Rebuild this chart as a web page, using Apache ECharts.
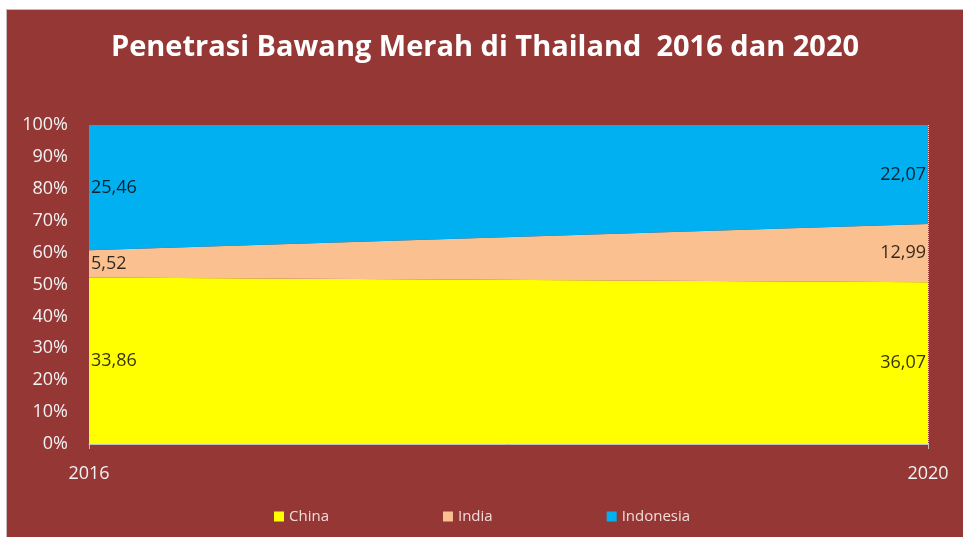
<!DOCTYPE html>
<html>
<head>
<meta charset="utf-8">
<script src="https://cdn.jsdelivr.net/npm/echarts@6/dist/echarts.min.js"></script>
<style>
  html, body { margin: 0; padding: 0; background: #ffffff; }
  #chart { position: absolute; left: 6px; top: 9px; width: 957px; height: 528px; border-left: 1px solid #c8b8b8; border-top: 1px solid #c8b8b8; box-sizing: border-box; }
</style>
</head>
<body>
<div id="chart"></div>
<script>
  // data
  const years = ["2016", "2020"];
  const seriesNames = ["China", "India", "Indonesia"];
  const china = [33.86, 36.07];
  const india = [5.52, 12.99];
  const indonesia = [25.46, 22.07];
  const colors = ["#ffff00", "#fac090", "#00b0f0"];

  const raw = [china, india, indonesia];
  // 100% stacked: share of each country per year
  const totals = years.map((y, j) => raw.reduce((s, arr) => s + arr[j], 0));
  const shares = raw.map(arr => arr.map((v, j) => v / totals[j] * 100));

  let series = [];
  for (let i = 0; i < raw.length; i++) {
    series.push({
      name: seriesNames[i],
      type: "line",
      stack: "total",
      symbol: "none",
      lineStyle: { width: 0 },
      areaStyle: { color: colors[i], opacity: 1 },
      itemStyle: { color: colors[i] },
      data: shares[i],
    });
  }

  // value labels placed at the middle of each band
  let labelData = [];
  for (let i = 0; i < raw.length; i++) {
    for (let j = 0; j < years.length; j++) {
      let base = 0;
      for (let k = 0; k < i; k++) base += shares[k][j];
      labelData.push({
        value: [years[j], base + shares[i][j] / 2],
        raw: raw[i][j],
        label: { position: j === 0 ? "right" : "left", distance: 2 },
      });
    }
  }
  series.push({
    type: "scatter",
    symbolSize: 0,
    silent: true,
    z: 5,
    data: labelData,
    label: {
      show: true,
      color: "#000000",
      fontSize: 18,
      fontFamily: "Open Sans",
      formatter: p => p.data.raw.toFixed(2).replace(".", ","),
    },
    // dotted edge at the last year
    markLine: {
      silent: true,
      symbol: "none",
      label: { show: false },
      lineStyle: { color: "#d9d9d9", type: "dotted", width: 1 },
      data: [{ xAxis: years[years.length - 1] }],
    },
  });

  var myChart = echarts.init(document.getElementById("chart"));
  myChart.setOption({
    backgroundColor: "#953735",
    animation: false,
    title: {
      text: "Penetrasi Bawang Merah di Thailand  2016 dan 2020",
      left: "center",
      top: 18,
      textStyle: {
        color: "#ffffff",
        fontSize: 29,
        fontWeight: "bold",
        fontFamily: "Open Sans",
      },
    },
    legend: {
      data: seriesNames,
      left: 262,
      bottom: 8,
      itemWidth: 10,
      itemHeight: 10,
      itemGap: 114,
      icon: "rect",
      textStyle: { color: "#f2dcdb", fontSize: 15, fontFamily: "Open Sans" },
    },
    grid: { left: 82, right: 35, top: 115, bottom: 93 },
    xAxis: {
      type: "category",
      data: years,
      boundaryGap: false,
      axisLine: { lineStyle: { color: "#bfbfbf" } },
      axisTick: { show: true, length: 5, lineStyle: { color: "#bfbfbf" } },
      axisLabel: { color: "#f2f2f2", fontSize: 18, margin: 21, fontFamily: "Open Sans" },
      splitLine: { show: false },
    },
    yAxis: {
      type: "value",
      min: 0,
      max: 100,
      interval: 10,
      axisLine: { show: false },
      axisTick: { show: false },
      splitLine: { show: false },
      axisLabel: {
        color: "#f2f2f2",
        fontSize: 18,
        margin: 21,
        fontFamily: "Open Sans",
        formatter: "{value}%",
      },
    },
    series: series,
  });
</script>
</body>
</html>
